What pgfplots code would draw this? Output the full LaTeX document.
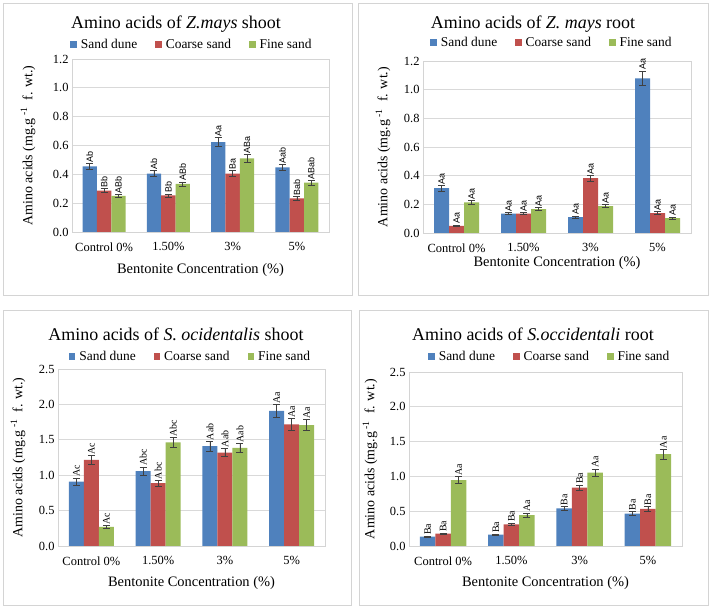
\documentclass[border=0pt]{standalone}
\usepackage{pgfplots}
\usepackage{pgfplotstable}
\pgfplotsset{compat=1.18}
\usepackage{fontspec}
\setmainfont{Liberation Serif}
\newfontfamily\lettersans{Liberation Sans}

\definecolor{dune}{HTML}{4F81BD}
\definecolor{coarse}{HTML}{C0504D}
\definecolor{fine}{HTML}{9BBB59}
\definecolor{errc}{HTML}{404040}
\definecolor{gridc}{HTML}{D9D9D9}
\definecolor{framec}{HTML}{D4D4D4}

% mean, standard error and letters for sand dune (sd), coarse sand (cs), fine sand (fs)
\pgfplotstableread{
x sd sde sdl cs cse csl fs fse fsl
0 0.455 0.020 Ab  0.287 0.015 Bb  0.250 0.012 ABb
1 0.405 0.020 Ab  0.254 0.010 Bb  0.333 0.015 ABb
2 0.624 0.030 Aa  0.405 0.020 Ba  0.511 0.025 ABa
3 0.449 0.020 Aab 0.234 0.012 Bab 0.342 0.015 ABab
}\zmshoot
\pgfplotstableread{
x sd sde sdl cs cse csl fs fse fsl
0 0.313 0.020 Aa 0.050 0.005 Aa 0.214 0.012 Aa
1 0.135 0.008 Aa 0.135 0.008 Aa 0.167 0.010 Aa
2 0.111 0.008 Aa 0.383 0.020 Aa 0.188 0.010 Aa
3 1.079 0.050 Aa 0.139 0.010 Aa 0.104 0.007 Aa
}\zmroot
\pgfplotstableread{
x sd sde sdl cs cse csl fs fse fsl
0 0.910 0.050 Ac  1.217 0.060 Ac  0.269 0.020 Ac
1 1.057 0.060 Abc 0.887 0.040 Abc 1.462 0.070 Abc
2 1.410 0.070 Aab 1.320 0.060 Aab 1.387 0.060 Aab
3 1.910 0.090 Aa  1.717 0.080 Aa  1.708 0.080 Aa
}\soshoot
\pgfplotstableread{
x sd sde sdl cs cse csl fs fse fsl
0 0.134 0.010 Ba 0.177 0.010 Ba 0.946 0.050 Aa
1 0.163 0.010 Ba 0.311 0.020 Ba 0.445 0.030 Aa
2 0.540 0.030 Ba 0.837 0.040 Ba 1.056 0.050 Aa
3 0.464 0.030 Ba 0.535 0.030 Ba 1.319 0.070 Aa
}\soroot

\pgfplotsset{
  panel/.style={
    scale only axis, anchor=south west,
    ybar=0pt,
    xmin=-0.5, xmax=3.5,
    xtick={0,1,2,3},
    xticklabels={Control 0\%, 1.50\%, 3\%, 5\%},
    ymin=0,
    ymajorgrids,
    grid style={gridc, line width=0.8pt},
    axis line style={framec, line width=0.8pt},
    major tick length=0pt,
    tick label style={font=\rmfamily\fontsize{12.5}{14}\selectfont, text=black},
    xticklabel style={yshift=-7bp},
    yticklabel style={/pgf/number format/.cd, fixed, fixed zerofill, precision=1, assume math mode=true},
    xlabel={Bentonite Concentration (\%)},
    ylabel={Amino acids (mg.g\,\textsuperscript{-1}\enspace f. wt.)},
    legend columns=3,
    legend style={draw=none, fill=none, font=\rmfamily\fontsize{13.5}{15}\selectfont,
      /tikz/every even column/.append style={column sep=16bp},
      /tikz/every odd column/.append style={column sep=2bp}},
    legend image code/.code={\fill[##1] (0bp,-3bp) rectangle (6.5bp,3.5bp);},
  },
  xlab/.style={every axis x label/.style={at={(rel axis cs:0.5,0)}, yshift=#1, anchor=center,
    font=\rmfamily\fontsize{14.5}{16}\selectfont}},
  ylab/.style={every axis y label/.style={at={(rel axis cs:0,0.5)}, xshift=#1, rotate=90, anchor=center,
    font=\rmfamily\fontsize{14}{16}\selectfont}},
  series/.style={
    fill=#1, draw=none,
    error bars/y dir=both,
    error bars/y explicit,
    error bars/error bar style={errc, line width=0.6pt, solid},
    error bars/error mark options={rotate=90, mark size=3.5bp, errc, line width=0.6pt},
  },
  letters/.style={
    nodes near coords,
    point meta=explicit symbolic,
    visualization depends on={\thisrow{#1}\as\errv},
  },
}

\begin{document}
\begin{tikzpicture}
\path[use as bounding box] (0bp,0bp) rectangle (710bp,607bp);

% panel frames
\draw[framec, line width=0.8pt] (3bp,312bp) rectangle (352bp,604bp);
\draw[framec, line width=0.8pt] (358bp,312bp) rectangle (708bp,604bp);
\draw[framec, line width=0.8pt] (3bp,2bp) rectangle (351bp,297bp);
\draw[framec, line width=0.8pt] (359bp,2bp) rectangle (708bp,297bp);

% Z. mays shoot
\begin{axis}[panel, at={(72bp,375bp)}, width=257bp, height=173bp,
  ymax=1.2, ytick={0,0.2,...,1.2}, bar width=14.4bp,
  ylab=-44bp, xlab=-38bp,
  legend style={at={(0.467,1)}, anchor=center, yshift=14bp},
  nodes near coords style={shift={(axis direction cs:0,\errv)}, rotate=90, anchor=west,
    inner sep=1bp, font=\lettersans\fontsize{9}{10}\selectfont, text=black},
]
\addplot[series=dune, letters=sde] table[x=x, y=sd, y error=sde, meta=sdl] {\zmshoot};
\addplot[series=coarse, letters=cse] table[x=x, y=cs, y error=cse, meta=csl] {\zmshoot};
\addplot[series=fine, letters=fse] table[x=x, y=fs, y error=fse, meta=fsl] {\zmshoot};
\legend{Sand dune, Coarse sand, Fine sand}
\end{axis}

% Z. mays root
\begin{axis}[panel, at={(423bp,374bp)}, width=268bp, height=172bp,
  ymax=1.2, ytick={0,0.2,...,1.2}, bar width=15bp,
  ylab=-40bp, xlab=-30bp,
  legend style={at={(0.481,1)}, anchor=center, yshift=18bp},
  nodes near coords style={shift={(axis direction cs:0,\errv)}, rotate=90, anchor=west,
    inner sep=1bp, font=\lettersans\fontsize{9}{10}\selectfont, text=black},
]
\addplot[series=dune, letters=sde] table[x=x, y=sd, y error=sde, meta=sdl] {\zmroot};
\addplot[series=coarse, letters=cse] table[x=x, y=cs, y error=cse, meta=csl] {\zmroot};
\addplot[series=fine, letters=fse] table[x=x, y=fs, y error=fse, meta=fsl] {\zmroot};
\legend{Sand dune, Coarse sand, Fine sand}
\end{axis}

% S. ocidentalis shoot
\begin{axis}[panel, at={(58bp,61bp)}, width=267bp, height=177bp,
  ymax=2.5, ytick={0,0.5,...,2.5}, bar width=15bp,
  ylab=-40bp, xlab=-37bp,
  legend style={at={(0.496,1)}, anchor=center, yshift=12bp},
  nodes near coords style={shift={(axis direction cs:0,\errv)}, rotate=90, anchor=west,
    inner sep=1bp, font=\rmfamily\fontsize{10}{11}\selectfont, text=black},
]
\addplot[series=dune, letters=sde] table[x=x, y=sd, y error=sde, meta=sdl] {\soshoot};
\addplot[series=coarse, letters=cse] table[x=x, y=cs, y error=cse, meta=csl] {\soshoot};
\addplot[series=fine, letters=fse] table[x=x, y=fs, y error=fse, meta=fsl] {\soshoot};
\legend{Sand dune, Coarse sand, Fine sand}
\end{axis}

% S. occidentali root
\begin{axis}[panel, at={(409bp,61bp)}, width=273bp, height=174bp,
  ymax=2.5, ytick={0,0.5,...,2.5}, bar width=15.5bp,
  ylab=-39bp, xlab=-37bp,
  legend style={at={(0.516,1)}, anchor=center, yshift=15bp},
  nodes near coords style={shift={(axis direction cs:0,\errv)}, rotate=90, anchor=west,
    inner sep=1bp, font=\rmfamily\fontsize{10}{11}\selectfont, text=black},
]
\addplot[series=dune, letters=sde] table[x=x, y=sd, y error=sde, meta=sdl] {\soroot};
\addplot[series=coarse, letters=cse] table[x=x, y=cs, y error=cse, meta=csl] {\soroot};
\addplot[series=fine, letters=fse] table[x=x, y=fs, y error=fse, meta=fsl] {\soroot};
\legend{Sand dune, Coarse sand, Fine sand}
\end{axis}

% panel titles
\begin{scope}[every node/.style={font=\rmfamily\fontsize{18}{20}\selectfont}]
\node at (176bp,583bp) {Amino acids of \textit{Z.mays} shoot};
\node at (533bp,583bp) {Amino acids of \textit{Z. mays} root};
\node at (176bp,273bp) {Amino acids of \textit{S. ocidentalis} shoot};
\node at (533bp,273bp) {Amino acids of \textit{S.occidentali} root};
\end{scope}
\end{tikzpicture}
\end{document}
